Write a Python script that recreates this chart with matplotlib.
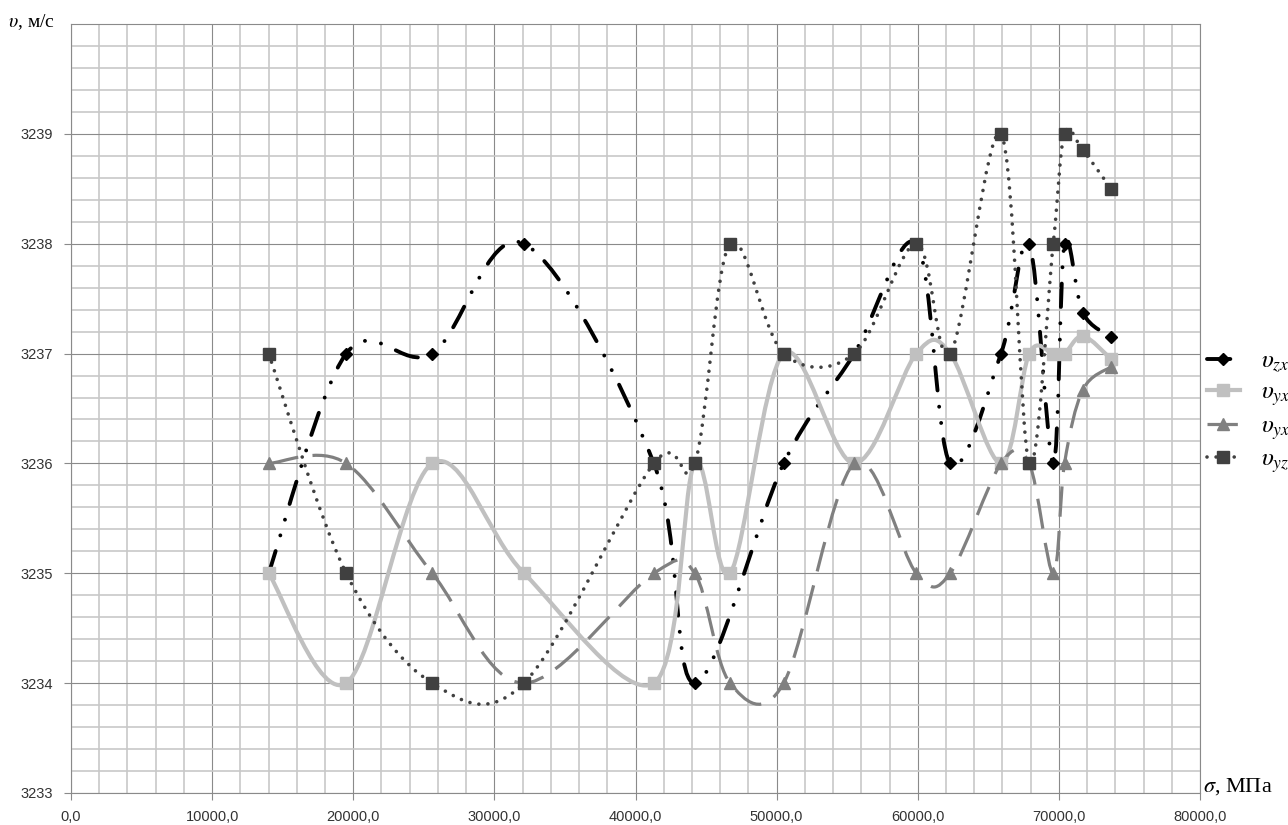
import numpy as np
import matplotlib
matplotlib.use("Agg")
import matplotlib.pyplot as plt
from matplotlib.path import Path
from matplotlib.patches import PathPatch
from matplotlib.lines import Line2D
from matplotlib.ticker import FuncFormatter, MultipleLocator

plt.rcParams['mathtext.fontset'] = 'stix'

# stress, MPa
sigma_zx = [14000, 19500, 25600, 32100, 41300, 44200, 50500, 55500, 59900,
            62300, 65900, 67900, 69600, 70400, 71700, 73700]
sigma = [14000, 19500, 25600, 32100, 41300, 44200, 46700, 50500, 55500, 59900,
         62300, 65900, 67900, 69600, 70400, 71700, 73700]

# velocity, m/s
v_zx = [3235, 3237, 3237, 3238, 3236, 3234, 3236, 3237, 3238,
        3236, 3237, 3238, 3236, 3238, 3237.37, 3237.15]
v_yx = [3235, 3234, 3236, 3235, 3234, 3236, 3235, 3237, 3236, 3237,
        3237, 3236, 3237, 3237, 3237, 3237.16, 3236.95]
v_yx2 = [3236, 3236, 3235, 3234, 3235, 3235, 3234, 3234, 3236, 3235,
         3235, 3236, 3236, 3235, 3236, 3236.67, 3236.88]
v_yz = [3237, 3235, 3234, 3234, 3236, 3236, 3238, 3237, 3237, 3238,
        3237, 3239, 3236, 3238, 3239, 3238.85, 3238.5]

labels = [r'$\upsilon_{zx}$', r'$\upsilon_{yx}$', r'$\upsilon_{yx}$', r'$\upsilon_{yz}$']


def smooth_path(xs, ys):
    # excel-like smoothed line: bezier segments, catmull-rom style controls
    p = np.column_stack([xs, ys]).astype(float)
    n = len(p)
    verts = [p[0]]
    codes = [Path.MOVETO]
    for i in range(n - 1):
        p0 = p[i - 1] if i > 0 else p[i]
        p1, p2 = p[i], p[i + 1]
        p3 = p[i + 2] if i + 2 < n else p[i + 1]
        verts += [p1 + (p2 - p0) / 6, p2 - (p3 - p1) / 6, p2]
        codes += [Path.CURVE4] * 3
    return Path(verts, codes)


fig = plt.figure(figsize=(12.88, 8.25), dpi=100)
ax = fig.add_axes([71 / 1288, 32 / 825, 1129 / 1288, 769 / 825])

styles = [
    dict(color='black', lw=2.8, ls=(0, (6.0, 4.2, 0.01, 4.2, 0.01, 4.2)), cap='round',
         marker='D', ms=6, mc='black'),
    dict(color='#c0c0c0', lw=3.0, ls='solid', cap='butt',
         marker='s', ms=8, mc='#c0c0c0'),
    dict(color='#808080', lw=2.3, ls=(0, (9.5, 4.5)), cap='butt',
         marker='^', ms=9, mc='#808080'),
    dict(color='#404040', lw=2.6, ls=(0, (0.01, 2.5)), cap='round',
         marker='s', ms=8, mc='#404040'),
]
series = [(sigma_zx, v_zx), (sigma, v_yx), (sigma, v_yx2), (sigma, v_yz)]

handles = []
for (xs, ys), st, lab in zip(series, styles, labels):
    patch = PathPatch(smooth_path(xs, ys), fill=False, edgecolor=st['color'],
                      lw=st['lw'], linestyle=st['ls'], capstyle=st['cap'],
                      joinstyle='round')
    ax.add_patch(patch)
    ax.plot(xs, ys, linestyle='none', marker=st['marker'], ms=st['ms'],
            color=st['mc'], mec=st['mc'])
    handles.append(Line2D([0], [0], color=st['color'], lw=st['lw'],
                          linestyle=st['ls'], dash_capstyle=st['cap'],
                          marker=st['marker'], ms=st['ms'], mfc=st['mc'],
                          mec=st['mc']))

ax.set_xlim(0, 80000)
ax.set_ylim(3233, 3240)
ax.xaxis.set_major_locator(MultipleLocator(10000))
ax.xaxis.set_minor_locator(MultipleLocator(2000))
ax.set_yticks(range(3233, 3240))
ax.yaxis.set_minor_locator(MultipleLocator(0.2))
ax.xaxis.set_major_formatter(FuncFormatter(lambda v, p: f"{v:.1f}".replace('.', ',')))
ax.yaxis.set_major_formatter(FuncFormatter(lambda v, p: f"{v:.0f}"))

ax.grid(which='major', color='#8a8a8a', lw=0.8)
ax.grid(which='minor', color='#c8c8c8', lw=1.2)
ax.set_axisbelow(True)
for s in ax.spines.values():
    s.set_color('#8a8a8a')
    s.set_linewidth(0.8)
ax.tick_params(which='major', length=5, width=0.8, color='#8a8a8a',
               labelsize=10.5, labelcolor='#333333')
ax.tick_params(axis='y', pad=8)
ax.tick_params(axis='x', pad=7)
ax.tick_params(which='minor', length=0)
for t in ax.get_xticklabels() + ax.get_yticklabels():
    t.set_fontfamily('Liberation Sans')

fig.text(8 / 1288, 1 - 22 / 825, r'$\upsilon$, м/с', fontsize=14,
         family='Liberation Serif', va='center', ha='left')
fig.text(1203 / 1288, 1 - 787 / 825, r'$\sigma$, МПа', fontsize=16,
         family='Liberation Serif', va='center', ha='left')

fig.legend(handles, labels, loc='center left',
           bbox_to_anchor=(1207 / 1288, 1 - 412 / 825), frameon=False,
           fontsize=18, handlelength=1.3, handletextpad=0.85,
           labelspacing=0.2, borderpad=0, borderaxespad=0)

fig.savefig('out.png', dpi=100)
